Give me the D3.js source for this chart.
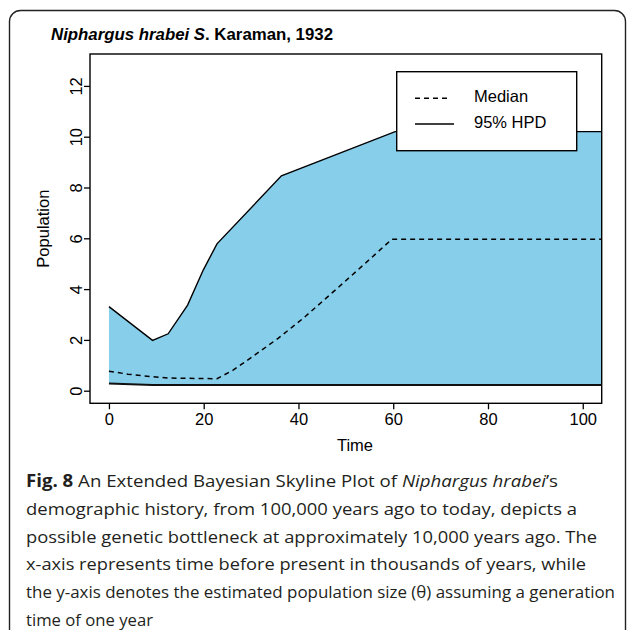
<!DOCTYPE html>
<html>
<head>
<meta charset="utf-8">
<script src="https://cdn.jsdelivr.net/npm/d3@7"></script>
<style>
  body { margin: 0; background: #fff; }
  svg { display: block; }
</style>
</head>
<body>
<div id="chart"></div>
<script>
// 95% HPD band (time in kyr before present, population theta)
var hpdTime  = [0, 9.2, 12.5, 16.6, 19.9, 22.8, 36.4, 60.4, 104];
var hpdUpper = [3.31, 1.98, 2.24, 3.37, 4.75, 5.78, 8.46, 10.2, 10.2];
var hpdLower = [0.28, 0.22, 0.22, 0.22, 0.22, 0.22, 0.22, 0.22, 0.22];

// median curve
var medTime  = [0, 4, 9.2, 12.5, 22.8, 26.2, 30, 35.7, 41, 48, 54, 59.7, 104];
var medValue = [0.77, 0.65, 0.55, 0.5, 0.47, 0.81, 1.3, 2.06, 2.85, 4.0, 5.0, 5.96, 5.96];

var xTicks = [0, 20, 40, 60, 80, 100];
var yTicks = [0, 2, 4, 6, 8, 10, 12];

var legendLabels = ["Median", "95% HPD"];

var captionLines = [
    [{t: "Fig. 8", w: "bold"}, {t: " An Extended Bayesian Skyline Plot of "}, {t: "Niphargus hrabei", s: "italic"}, {t: "\u2019s"}],
    [{t: "demographic history, from 100,000 years ago to today, depicts a"}],
    [{t: "possible genetic bottleneck at approximately 10,000 years ago. The"}],
    [{t: "x-axis represents time before present in thousands of years, while"}],
    [{t: "the y-axis denotes the estimated population size (\u03B8) assuming a generation"}],
    [{t: "time of one year"}]
];
var captionEnds = [558, 577, 597, 586, 615, 153];

function drawSkyline() {
    var W = 627, H = 630;
    var svg = d3.select("#chart").append("svg")
        .attr("width", W).attr("height", H);

    // rounded figure frame
    svg.append("rect")
        .attr("x", 9.5).attr("y", 10.5)
        .attr("width", 616).attr("height", 640)
        .attr("rx", 11)
        .attr("fill", "none")
        .attr("stroke", "#222")
        .attr("stroke-width", 1.4);

    var plot = {left: 90, top: 54, right: 601.7, bottom: 403.3};

    var x = d3.scaleLinear().domain([-4, 104]).range([plot.left, plot.right]);
    var y = d3.scaleLinear().domain([-0.496, 13.256]).range([plot.bottom, plot.top]);

    svg.append("text")
        .attr("x", 51).attr("y", 40)
        .attr("textLength", 282).attr("lengthAdjust", "spacingAndGlyphs")
        .style("font-family", "'Liberation Sans', Arial, sans-serif")
        .style("font-size", "16px")
        .style("font-weight", "bold")
        .call(function(t) {
            t.append("tspan").style("font-style", "italic").text("Niphargus hrabei S");
            t.append("tspan").text(". Karaman, 1932");
        });

    svg.append("clipPath").attr("id", "plotClip")
        .append("rect")
        .attr("x", plot.left).attr("y", plot.top)
        .attr("width", plot.right - plot.left).attr("height", plot.bottom - plot.top);

    var g = svg.append("g").attr("clip-path", "url(#plotClip)");

    var band = hpdTime.map(function(t, i) { return {t: t, lo: hpdLower[i], hi: hpdUpper[i]}; });
    var med = medTime.map(function(t, i) { return {t: t, v: medValue[i]}; });

    g.append("path")
        .datum(band)
        .attr("fill", "#87CEEB")
        .attr("d", d3.area()
            .x(function(d) { return x(d.t); })
            .y0(function(d) { return y(d.lo); })
            .y1(function(d) { return y(d.hi); }));

    g.append("path")
        .datum(band)
        .attr("fill", "none").attr("stroke", "#000").attr("stroke-width", 1.4)
        .attr("d", d3.line().x(function(d) { return x(d.t); }).y(function(d) { return y(d.hi); }));

    g.append("path")
        .datum(band)
        .attr("fill", "none").attr("stroke", "#111").attr("stroke-width", 2)
        .attr("d", d3.line().x(function(d) { return x(d.t); }).y(function(d) { return y(d.lo); }));

    g.append("path")
        .datum(med)
        .attr("fill", "none").attr("stroke", "#000").attr("stroke-width", 1.5)
        .attr("stroke-dasharray", "5,4")
        .attr("d", d3.line().x(function(d) { return x(d.t); }).y(function(d) { return y(d.v); }));

    // box
    svg.append("rect")
        .attr("x", plot.left).attr("y", plot.top)
        .attr("width", plot.right - plot.left).attr("height", plot.bottom - plot.top)
        .attr("fill", "none").attr("stroke", "#000").attr("stroke-width", 1.4);

    var axisFont = "'Liberation Sans', Arial, sans-serif";
    var axisSize = "16.5px";

    var xAxis = svg.append("g")
        .attr("transform", "translate(0," + plot.bottom + ")")
        .call(d3.axisBottom(x).tickValues(xTicks).tickSize(6).tickPadding(4));
    xAxis.select(".domain").remove();
    xAxis.selectAll("line").attr("stroke", "#000").attr("stroke-width", 1.3);
    xAxis.selectAll("text")
        .style("font-family", axisFont).style("font-size", axisSize).attr("fill", "#000");

    var yAxis = svg.append("g")
        .attr("transform", "translate(" + plot.left + ",0)")
        .call(d3.axisLeft(y).tickValues(yTicks).tickSize(6));
    yAxis.select(".domain").remove();
    yAxis.selectAll("line").attr("stroke", "#000").attr("stroke-width", 1.3);
    yAxis.selectAll("text")
        .attr("x", null).attr("dy", null)
        .attr("transform", "translate(-8,0) rotate(-90)")
        .attr("text-anchor", "middle")
        .attr("y", 0)
        .style("font-family", axisFont).style("font-size", axisSize).attr("fill", "#000");

    svg.append("text")
        .attr("x", 355).attr("y", 450.5)
        .attr("text-anchor", "middle")
        .style("font-family", axisFont).style("font-size", axisSize)
        .text("Time");

    svg.append("text")
        .attr("transform", "translate(49," + ((plot.top + plot.bottom) / 2) + ") rotate(-90)")
        .attr("text-anchor", "middle")
        .style("font-family", axisFont).style("font-size", axisSize)
        .text("Population");

    // legend
    var leg = svg.append("g");
    leg.append("rect")
        .attr("x", 396.7).attr("y", 71.7)
        .attr("width", 180).attr("height", 79)
        .attr("fill", "#fff").attr("stroke", "#000").attr("stroke-width", 1.4);
    var legRows = [
        {label: legendLabels[0], dash: "5,4", x2: 450, y: 98.3},
        {label: legendLabels[1], dash: null, x2: 454, y: 124}
    ];
    legRows.forEach(function(r) {
        leg.append("line")
            .attr("x1", 415).attr("x2", r.x2).attr("y1", r.y).attr("y2", r.y)
            .attr("stroke", "#000").attr("stroke-width", 1.5)
            .attr("stroke-dasharray", r.dash);
        leg.append("text")
            .attr("x", 474).attr("y", r.y + 3.5)
            .style("font-family", axisFont).style("font-size", axisSize)
            .text(r.label);
    });

    // caption
    var cap = svg.append("g")
        .style("font-family", "'Open Sans', 'Noto Sans', sans-serif")
        .style("font-size", "17px")
        .attr("fill", "#231f20");
    captionLines.forEach(function(parts, i) {
        var t = cap.append("text").attr("x", 26).attr("y", 487 + i * 27.8);
        parts.forEach(function(p) {
            t.append("tspan")
                .style("font-weight", p.w || "normal")
                .style("font-style", p.s || "normal")
                .text(p.t);
        });
        t.attr("textLength", captionEnds[i] - 26).attr("lengthAdjust", "spacingAndGlyphs");
    });
}

drawSkyline();
</script>
</body>
</html>
